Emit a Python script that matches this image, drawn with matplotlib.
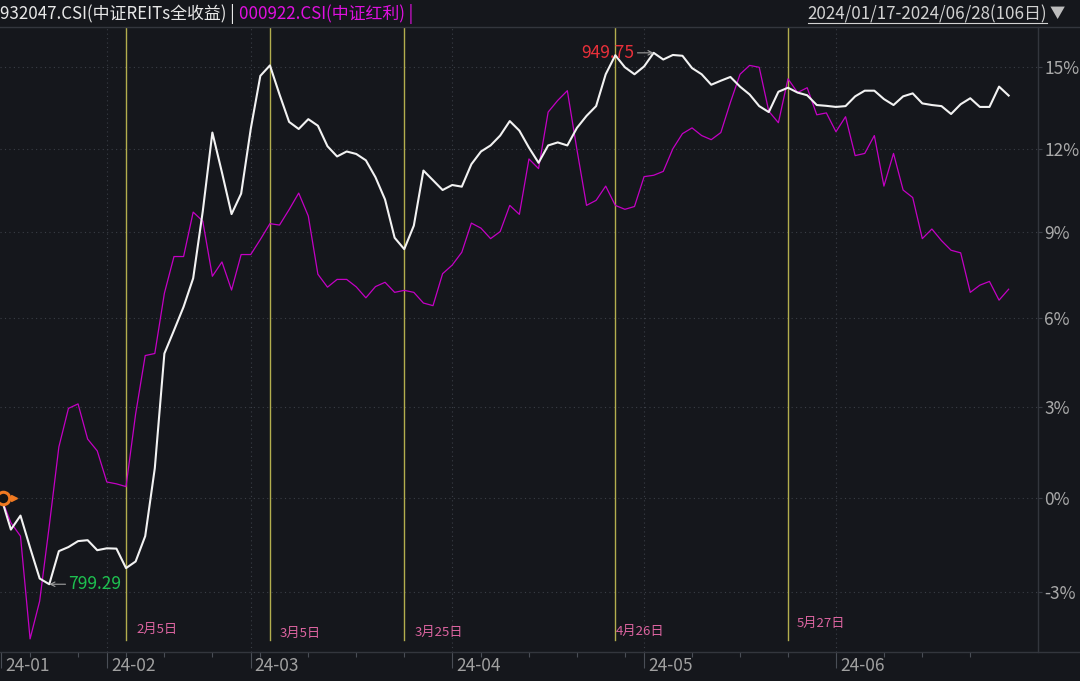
import matplotlib
matplotlib.use('Agg')
import matplotlib.pyplot as plt
import numpy as np
from matplotlib.lines import Line2D
from matplotlib.transforms import ScaledTranslation, blended_transform_factory
from matplotlib.ticker import NullLocator

plt.rcParams['font.family'] = ['Noto Sans CJK SC', 'DejaVu Sans']

# ---------------- data (cumulative % change since 2024/01/17, per trading day) ----------------
reits_name = '932047.CSI(中证REITs全收益) |'
dividend_name = '000922.CSI(中证红利) |'
date_range = '2024/01/17-2024/06/28(106日)'

reits = [0, -1.02, -0.57, -1.6, -2.58, -2.76, -1.71, -1.58, -1.39, -1.36,
         -1.68, -1.62, -1.63, -2.25, -2.04, -1.23, 0.97, 4.80, 5.59, 6.40,
         7.39, 9.75, 12.59, 11.14, 9.65, 10.38, 12.72, 14.68, 15.07, 13.99,
         12.98, 12.72, 13.08, 12.84, 12.09, 11.72, 11.90, 11.81, 11.58, 10.97,
         10.17, 8.81, 8.41, 9.24, 11.21, 10.86, 10.51, 10.69, 10.63, 11.44,
         11.90, 12.12, 12.48, 13.01, 12.66, 12.04, 11.49, 12.12, 12.23, 12.12,
         12.76, 13.20, 13.56, 14.74, 15.45, 15.00, 14.74, 15.03, 15.54, 15.29,
         15.46, 15.43, 14.97, 14.74, 14.35, 14.50, 14.64, 14.28, 13.99, 13.56,
         13.34, 14.09, 14.24, 14.06, 13.96, 13.60, 13.57, 13.53, 13.56, 13.92,
         14.13, 14.13, 13.82, 13.60, 13.92, 14.03, 13.66, 13.60, 13.56, 13.27,
         13.63, 13.85, 13.53, 13.53, 14.28, 13.95]

dividend = [0, -0.8, -1.23, -4.47, -3.29, -0.9, 1.67, 2.95, 3.10, 1.93,
            1.54, 0.52, 0.46, 0.37, 2.76, 4.73, 4.80, 6.87, 8.15, 8.15,
            9.72, 9.40, 7.46, 7.96, 6.98, 8.22, 8.22, 8.75, 9.31, 9.26,
            9.81, 10.40, 9.58, 7.53, 7.08, 7.35, 7.35, 7.09, 6.71, 7.10,
            7.25, 6.90, 6.97, 6.90, 6.53, 6.44, 7.55, 7.85, 8.30, 9.33,
            9.15, 8.78, 9.03, 9.96, 9.64, 11.63, 11.28, 13.34, 13.77, 14.13,
            11.97, 9.96, 10.14, 10.65, 9.96, 9.82, 9.92, 10.99, 11.04, 11.18,
            12.00, 12.55, 12.76, 12.48, 12.33, 12.59, 13.70, 14.74, 15.07, 15.00,
            13.37, 12.95, 14.57, 14.06, 14.24, 13.24, 13.31, 12.62, 13.17, 11.75,
            11.83, 12.48, 10.65, 11.83, 10.51, 10.24, 8.78, 9.12, 8.71, 8.37,
            8.28, 6.90, 7.15, 7.28, 6.63, 7.01]

extreme_labels = ['799.29', '949.75']          # min / max of the REITs index

month_idx = [0, 11, 26, 47, 67, 87]            # first trading day of each month
month_labels = ['24-01', '24-02', '24-03', '24-04', '24-05', '24-06']
week_idx = [3, 8, 13, 17, 22, 27, 32, 37, 42, 50, 55, 60, 65, 72, 77, 82, 92, 96, 101]

event_idx = [13, 28, 42, 64, 82]
event_labels = ['2月5日', '3月5日', '3月25日', '4月26日', '5月27日']

ytick_vals = [-3, 0, 3, 6, 9, 12, 15]
ytick_labels = ['-3%', '0%', '3%', '6%', '9%', '12%', '15%']

# ---------------- style / layout ----------------
BG = '#15171c'
GRID = '#3a3e46'
AXLINE = '#33363d'
W, H = 1080, 681
PX = 0.72  # points per pixel at 100 dpi

fig = plt.figure(figsize=(W / 100, H / 100), dpi=100, facecolor=BG)
ax_l, ax_r, ax_t, ax_b = 0, 1038, 27, 652
ax = fig.add_axes([ax_l / W, (H - ax_b) / H, (ax_r - ax_l) / W, (ax_b - ax_t) / H])
ax.set_facecolor(BG)

x = np.arange(len(reits))
r = 1 + np.array(reits) / 100
d = 1 + np.array(dividend) / 100

ax.plot(x, d, color='#c400c4', lw=0.9, zorder=3)
ax.plot(x, r, color='#f2f2f2', lw=1.5, zorder=4)

ax.set_yscale('log')
ax.set_ylim(0.95125, 1.16513)
ax.set_xlim(-0.1355, 108.06)

# y axis on the right
ax.yaxis.tick_right()
ax.set_yticks([1 + v / 100 for v in ytick_vals])
ax.set_yticklabels(ytick_labels)
ax.yaxis.set_minor_locator(NullLocator())
ax.tick_params(axis='y', which='major', length=3, width=0.8, color=GRID,
               pad=1.5, labelsize=12.5, labelcolor='#a9a9a9')
ax.grid(True, axis='y', which='major', color=GRID, lw=0.8, linestyle=(0, (1, 3)))

# x axis
ax.set_xticks(month_idx)
ax.set_xticklabels(month_labels, ha='left', va='center')
ax.set_xticks(week_idx, minor=True)
ax.tick_params(axis='x', which='major', length=16 * PX, width=0.8, color='#4a4e56',
               pad=-2 * PX, labelsize=12.5, labelcolor='#a0a0a0')
ax.tick_params(axis='x', which='minor', length=5 * PX, width=0.8, color='#4a4e56')
offset = ScaledTranslation(4 / 100, 0, fig.dpi_scale_trans)
for lbl in ax.xaxis.get_majorticklabels():
    lbl.set_transform(lbl.get_transform() + offset)
for i in month_idx[1:]:
    ax.axvline(i, color=GRID, lw=0.8, linestyle=(0, (1, 3)), zorder=1)

for s in ['left', 'top', 'bottom']:
    ax.spines[s].set_visible(False)
ax.spines['right'].set_color(AXLINE)
ax.spines['right'].set_linewidth(1.0)

# full-width frame lines
for ypx in (ax_t, ax_b):
    fig.add_artist(Line2D([0, 1], [1 - ypx / H, 1 - ypx / H], color=AXLINE, lw=1.0))

# event lines and labels
ev_offsets = [(10, 22.5), (10, 19), (10, 20), (0, 21), (9, 29)]
blend = blended_transform_factory(ax.transData, ax.transAxes)
for i, lab, (dx, dy) in zip(event_idx, event_labels, ev_offsets):
    ax.axvline(i, ymin=12 / (ax_b - ax_t), ymax=1, color='#b3ae4e', lw=1.0, zorder=2)
    ax.annotate(lab, xy=(i, 0), xycoords=blend, xytext=(dx * PX, dy * PX),
                textcoords='offset points', ha='left', va='center',
                color='#dc64a0', fontsize=9.5)

# min / max annotations
imin, imax = int(np.argmin(r)), int(np.argmax(r))
ax.annotate(extreme_labels[0], xy=(imin, r[imin]), xytext=(19 * PX, 0),
            textcoords='offset points', ha='left', va='center', color='#1ec050',
            fontsize=12.5, zorder=6,
            arrowprops=dict(arrowstyle='->', color='#a0a0a0', lw=0.8,
                            shrinkA=0, shrinkB=0, mutation_scale=8, relpos=(0, 0.5)))
ax.annotate(extreme_labels[1], xy=(imax, r[imax]), xytext=(-19 * PX, 0),
            textcoords='offset points', ha='right', va='center', color='#e8303a',
            fontsize=12.5, zorder=6,
            arrowprops=dict(arrowstyle='->', color='#a0a0a0', lw=0.8,
                            shrinkA=0, shrinkB=0, mutation_scale=8, relpos=(1, 0.5)))

# start marker
ax.plot(x[0] + 0.2, r[0], 'o', ms=9, mfc='#141414', mec='#f07a22', mew=2.2,
        clip_on=False, zorder=7)
tri = ax.transData + ScaledTranslation(11 / 100, 0, fig.dpi_scale_trans)
ax.plot(x[0] + 0.2, r[0], '>', ms=5, color='#f07a22', transform=tri,
        clip_on=False, zorder=7)

# header
hy = 1 - 14 / H
t1 = fig.text(0.0, hy, reits_name, color='#e8e8e8', fontsize=12.2, ha='left', va='center')
fig.text(0, 0, '')
ax.annotate(dividend_name, xy=(1, 0.5), xycoords=t1, xytext=(4 * PX, 0),
            textcoords='offset points', ha='left', va='center',
            color='#e010e0', fontsize=12.2, annotation_clip=False)
t3 = fig.text(1047 / W, hy, date_range, color='#d2d2d2', fontsize=12.2,
              ha='right', va='center')
fig.text(1057 / W, 1 - 13 / H, '▼', color='#bdbdbd', fontsize=11,
         ha='center', va='center')

fig.canvas.draw()
bb = t3.get_window_extent(fig.canvas.get_renderer())
uy = (H - 22.5) / H
fig.add_artist(Line2D([bb.x0 / W, bb.x1 / W], [uy, uy], color='#d2d2d2', lw=0.8))

fig.savefig('out.png', dpi=100, facecolor=BG)
